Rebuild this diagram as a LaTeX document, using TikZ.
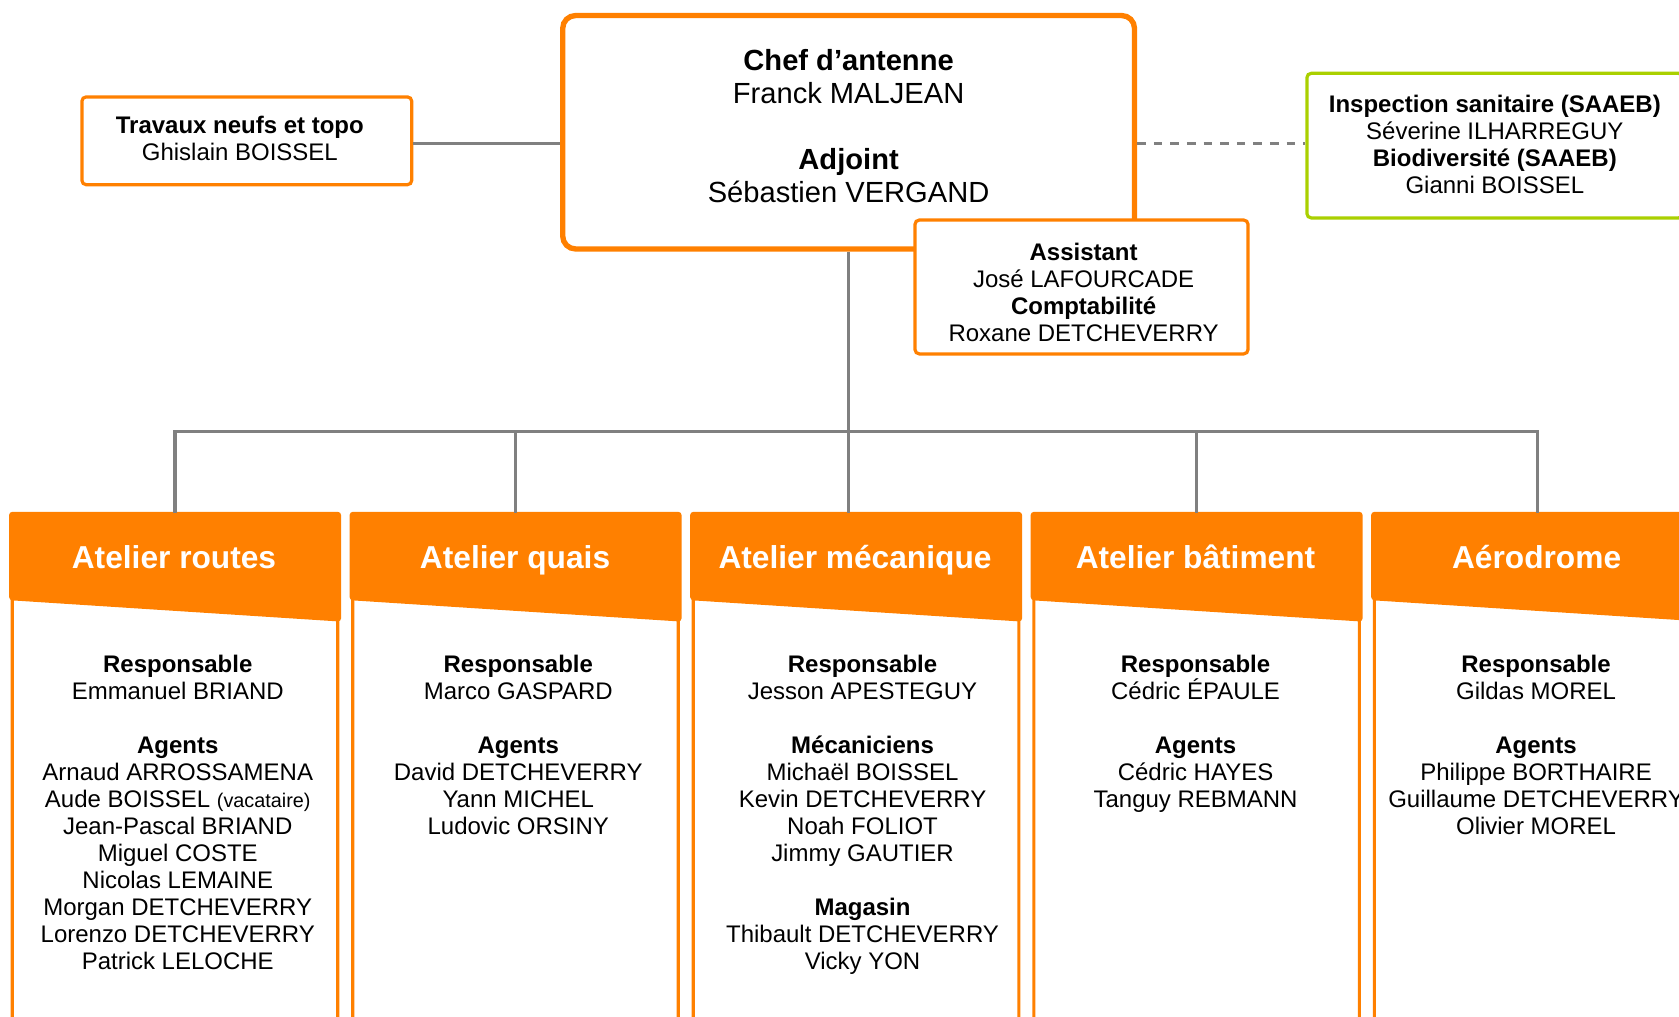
\documentclass[tikz,border=0pt]{standalone}
\usepackage{fontspec}
\setmainfont{Liberation Sans}
\usetikzlibrary{calc}
\definecolor{org}{RGB}{255,128,0}
\definecolor{gry}{RGB}{128,128,128}
\definecolor{grn}{RGB}{170,208,0}
\begin{document}
\begin{tikzpicture}[x=1pt,y=-1pt,
  conn/.style={draw=gry,line width=3pt},
  dconn/.style={draw=gry,line width=3pt,dash pattern=on 8pt off 7.5pt},
  smallbox/.style={draw=org,line width=3pt,fill=white,rounded corners=4pt,inner sep=0},
  colbox/.style={draw=org,line width=3pt,rounded corners=6pt,minimum width=304pt,minimum height=478pt,anchor=north,inner sep=0},
  txt/.style={font=\fontsize{22.4}{25.2}\selectfont,align=center,inner sep=0,anchor=north},
  bigtxt/.style={font=\fontsize{27.2}{31}\selectfont,align=center,inner sep=0,anchor=north},
  head/.style={font=\fontsize{29.6}{34}\selectfont\bfseries,text=white,anchor=base,inner sep=0}]
\useasboundingbox (0,0) rectangle (1568,949);

% chef box
\node[draw=org,line width=5pt,fill=white,rounded corners=12pt,minimum width=534pt,minimum height=218pt,inner sep=0] (chef) at (792.5,123.5) {};
\node[bigtxt] (cheftxt) at (792.5,46) {\textbf{Chef d’antenne}\\Franck MALJEAN\\[30pt]\textbf{Adjoint}\\Sébastien VERGAND};

% travaux
\node[smallbox,minimum width=308pt,minimum height=82pt] (trav) at (230.5,131.5) {};
\node[txt] (travtxt) at (224,108.5) {\textbf{Travaux neufs et topo}\\Ghislain BOISSEL};

% sanitaire (green)
\node[smallbox,draw=grn,minimum width=351pt,minimum height=135pt] (sante) at (1396,136) {};
\node[txt] (santetxt) at (1396,88.5) {\textbf{Inspection sanitaire (SAAEB)}\\Séverine ILHARREGUY\\\textbf{Biodiversité (SAAEB)}\\Gianni BOISSEL};

% connectors top
\coordinate (tl) at ([yshift=-2.5pt]trav.east);
\draw[conn] (tl) -- (tl -| chef.west);
\coordinate (dl) at ([yshift=2pt]sante.west);
\draw[dconn] (dl -| chef.east) -- (dl);

% columns
\foreach \n/\cx in {colA/163.5,colB/481.5,colC/799.5,colD/1117.5,colE/1435.5}{
  \node[colbox] (\n) at (\cx,479.5) {};
  \fill[org,rounded corners=3pt] ($(\n.north west)+(-1.5,-1.5)$) -- ($(\n.north east)+(1.5,-1.5)$) -- ($(\n.north east)+(1.5,101)$) -- ($(\n.north west)+(-1.5,81)$) -- cycle;
}

% bus
\coordinate (bus) at (792.5,403);
\draw[conn] (chef.south) -- (chef.south |- colC.north);
\draw[conn] (colA.north) -- (colA.north |- bus) -- (colE.north |- bus) -- (colE.north);
\draw[conn] (colB.north) -- (colB.north |- bus);
\draw[conn] (colD.north) -- (colD.north |- bus);

% assistant box (overlaps chef)
\node[smallbox,minimum width=311pt,minimum height=125pt] (asst) at (1010,268) {};
\node[txt] (assttxt) at (1012,226.5) {\textbf{Assistant}\\José LAFOURCADE\\\textbf{Comptabilité}\\Roxane DETCHEVERRY};

% headers
\node[head] (hA) at (162.5,531) {Atelier routes};
\node[head] (hB) at (481,531) {Atelier quais};
\node[head] (hC) at (798.5,531) {Atelier mécanique};
\node[head] (hD) at (1116.5,531) {Atelier bâtiment};
\node[head] (hE) at (1435,531) {Aérodrome};

% bodies
\node[txt] (bA) at (166,612) {\textbf{Responsable}\\Emmanuel BRIAND\\[25.2pt]\textbf{Agents}\\Arnaud ARROSSAMENA\\Aude BOISSEL {\fontsize{18.5}{20}\selectfont(vacataire)}\\Jean-Pascal BRIAND\\Miguel COSTE\\Nicolas LEMAINE\\Morgan DETCHEVERRY\\Lorenzo DETCHEVERRY\\Patrick LELOCHE};
\node[txt] (bB) at (484,612) {\textbf{Responsable}\\Marco GASPARD\\[25.2pt]\textbf{Agents}\\David DETCHEVERRY\\Yann MICHEL\\Ludovic ORSINY};
\node[txt] (bC) at (805.5,612) {\textbf{Responsable}\\Jesson APESTEGUY\\[25.2pt]\textbf{Mécaniciens}\\Michaël BOISSEL\\Kevin DETCHEVERRY\\Noah FOLIOT\\Jimmy GAUTIER\\[25.2pt]\textbf{Magasin}\\Thibault DETCHEVERRY\\Vicky YON};
\node[txt] (bD) at (1116.5,612) {\textbf{Responsable}\\Cédric ÉPAULE\\[25.2pt]\textbf{Agents}\\Cédric HAYES\\Tanguy REBMANN};
\node[txt] (bE) at (1434.5,612) {\textbf{Responsable}\\Gildas MOREL\\[25.2pt]\textbf{Agents}\\Philippe BORTHAIRE\\Guillaume DETCHEVERRY\\Olivier MOREL};
\end{tikzpicture}
\end{document}
